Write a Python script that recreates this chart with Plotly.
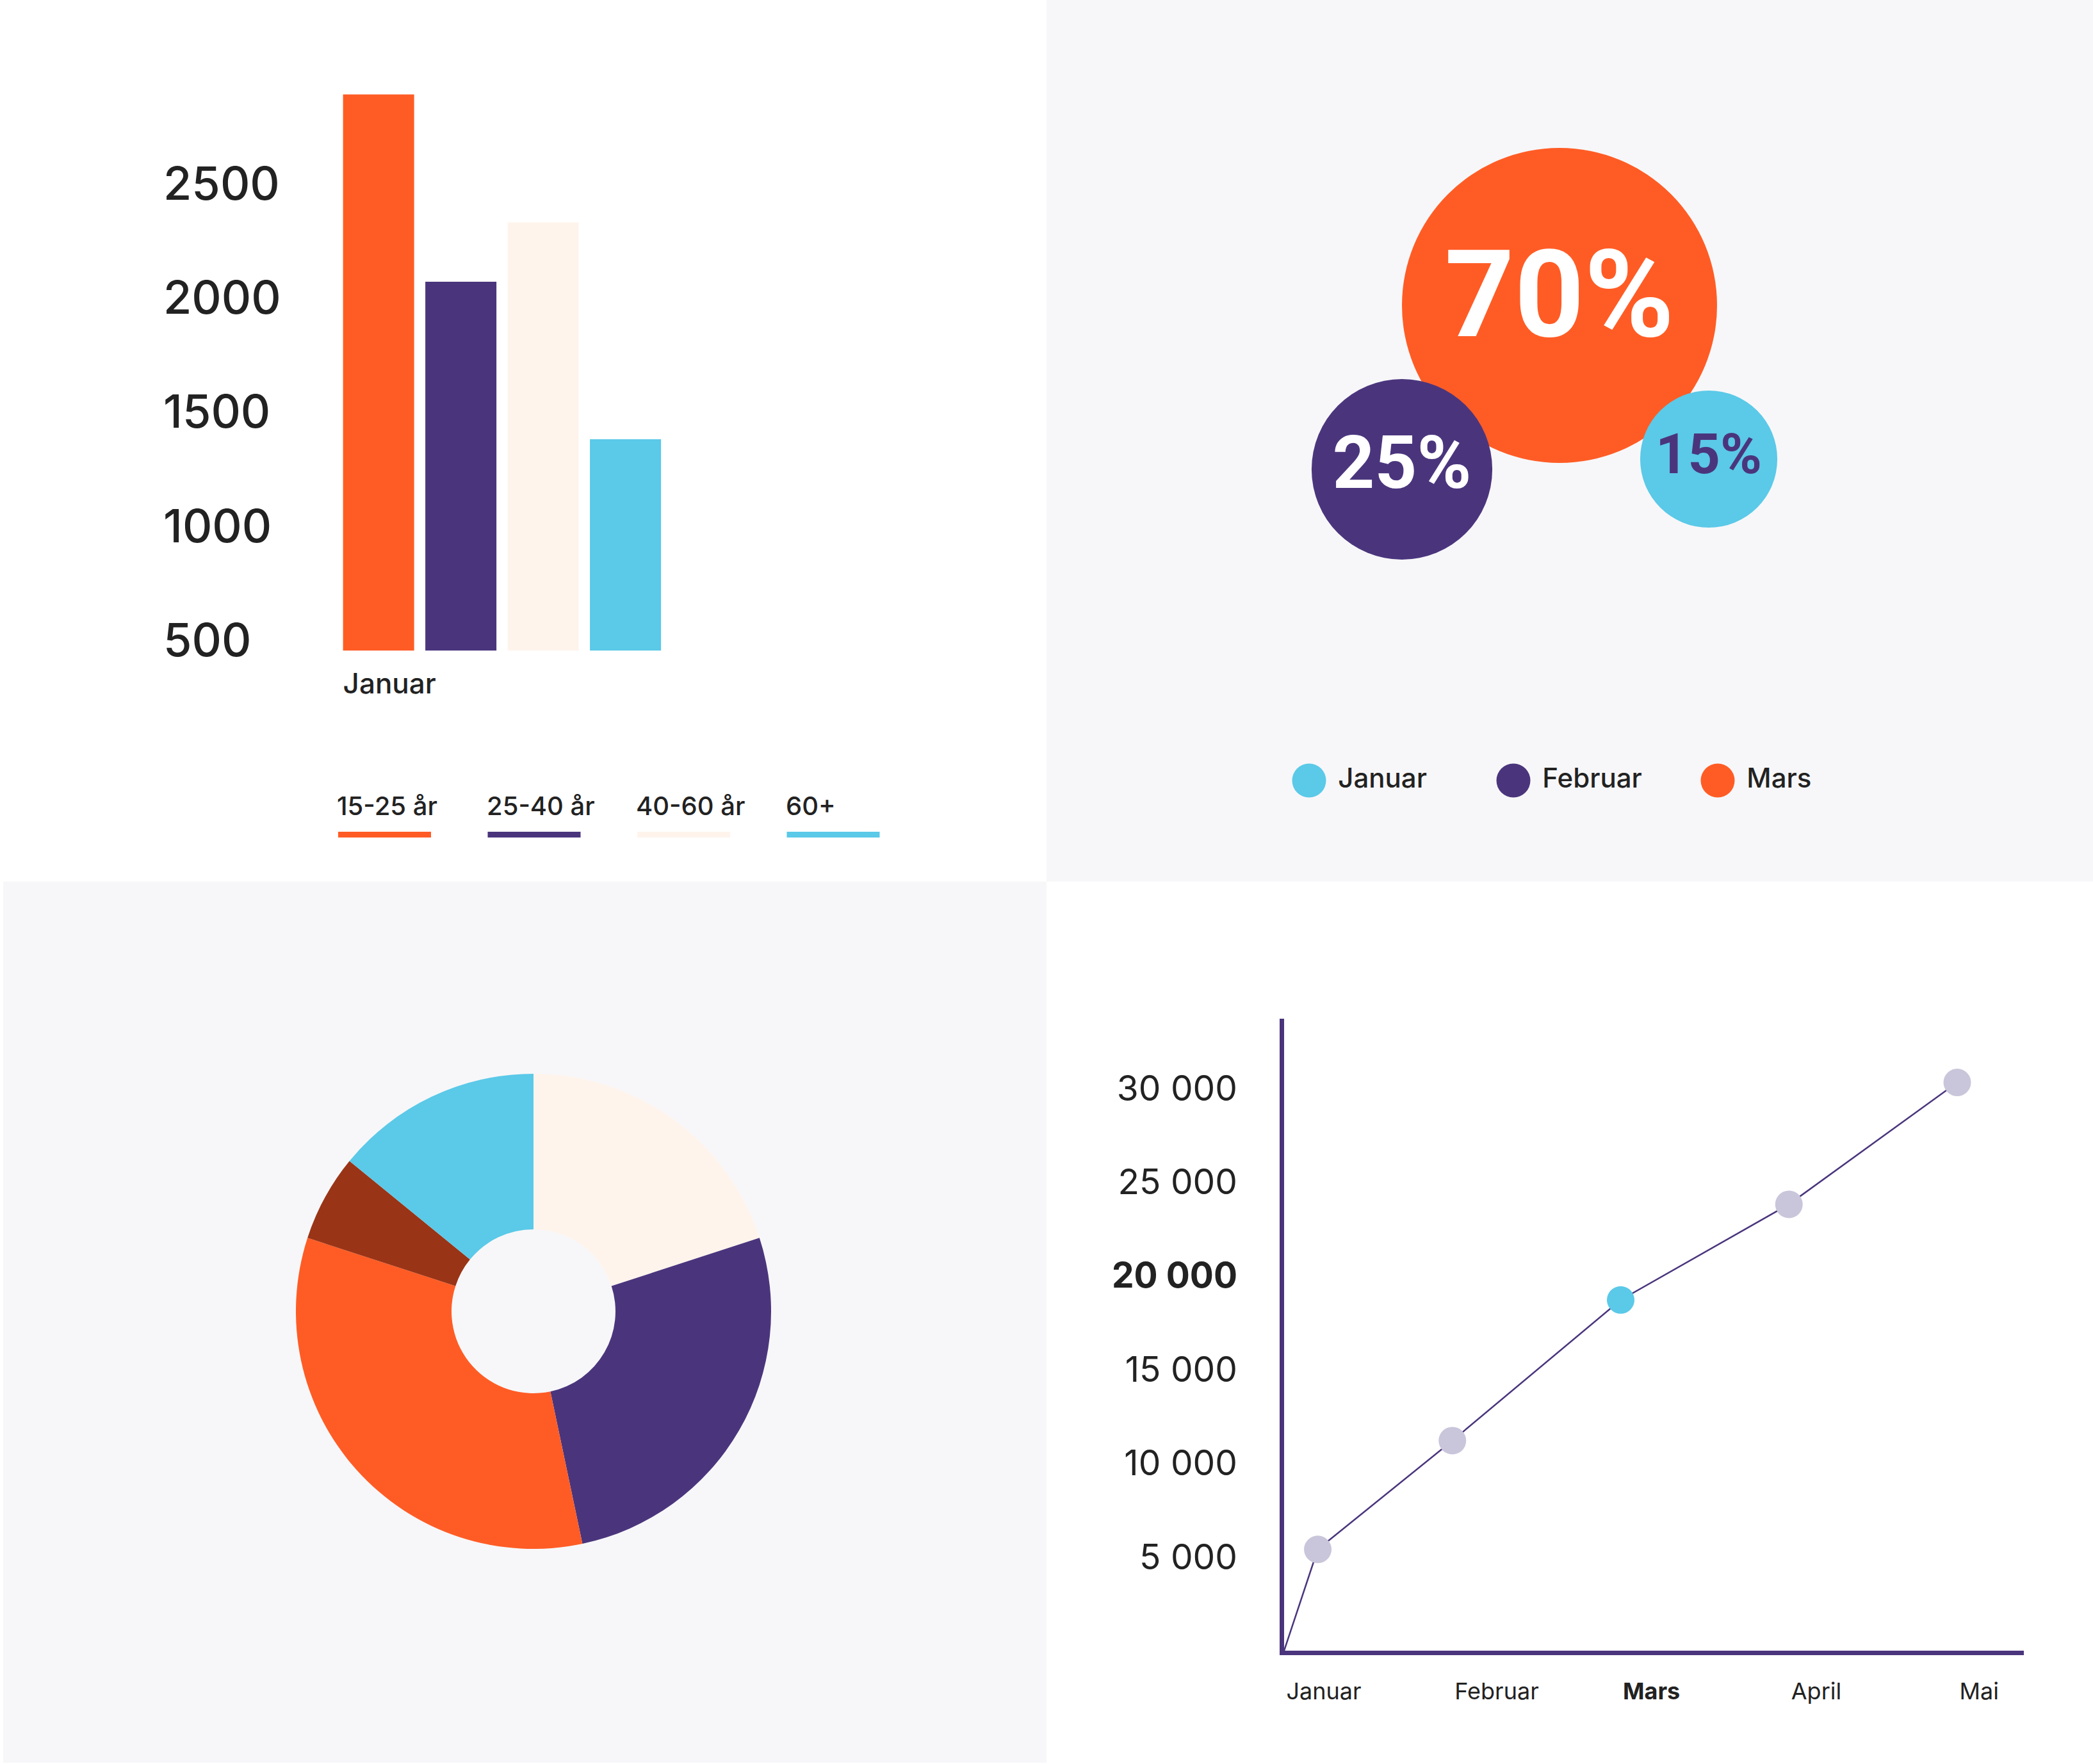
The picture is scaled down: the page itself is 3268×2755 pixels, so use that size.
import plotly.graph_objects as go

W, H = 3268, 2755
PAGE_OFFSET = 0  # body margin is removed by the post script below

# ---------------- data ----------------
# bar chart (top left)
bar_month = ["Januar"]
age_groups = ["15-25 år", "25-40 år", "40-60 år", "60+"]
age_values = [2890, 2070, 2330, 1380]
bar_ticks = [500, 1000, 1500, 2000, 2500]

# bubble chart (top right)
bubble_months = ["Januar", "Februar", "Mars"]
bubble_shares = [15, 25, 70]

# donut (bottom left)
donut_labels = ["Del 1", "Del 2", "Del 3", "Del 4", "Del 5"]
donut_values = [20.0, 26.7, 33.3, 5.9, 14.1]

# line chart (bottom right)
line_months = ["Januar", "Februar", "Mars", "April", "Mai"]
line_values = [5400, 11200, 18700, 23800, 30300]
line_ticks = [5000, 10000, 15000, 20000, 25000, 30000]
line_tick_labels = ["5 000", "10 000", "15 000", "20 000", "25 000", "30 000"]
highlight_month = "Mars"
highlight_tick = 20000

# ---------------- styles ----------------
ORANGE = "#FF5C25"
PURPLE = "#4A357D"
CREAM = "#FFF4EC"
CYAN = "#5BC9E8"
RUST = "#9A3416"
GREY_DOT = "#C9C6DB"
PANEL = "#F7F7F9"
INK = "#222222"
FONT = "Inter"

age_colors = [ORANGE, PURPLE, CREAM, CYAN]
bubble_colors = [CYAN, PURPLE, ORANGE]
bubble_text_colors = [PURPLE, "white", "white"]
bubble_font_sizes = [88, 115, 190]
donut_colors = [CREAM, PURPLE, ORANGE, RUST, CYAN]

# bubble packing layout (screen pixels inside the top-right panel)
bubble_x = [1034, 555, 801]
bubble_y = [717, 733, 477]


def px_x(p):
    return (p - PAGE_OFFSET) / W


def px_y(p):
    return 1 - (p - PAGE_OFFSET) / H


fig = go.Figure()

# ---------- bar chart ----------
BAR_PITCH = 0.25
BAR_WIDTH = 0.216
for i, (g, v) in enumerate(zip(age_groups, age_values)):
    fig.add_trace(go.Bar(
        x=bar_month, y=[v], name=g, width=BAR_WIDTH, offset=i * BAR_PITCH,
        marker=dict(color=age_colors[i], line=dict(width=0)),
        xaxis="x", yaxis="y", showlegend=False,
    ))

# ---------- bubbles ----------
order = sorted(range(len(bubble_shares)), key=lambda k: -bubble_shares[k])
sizes = [492 * (s / max(bubble_shares)) ** 0.54 for s in bubble_shares]
fig.add_trace(go.Scatter(
    x=[bubble_x[k] for k in order], y=[bubble_y[k] for k in order],
    mode="markers+text",
    text=[f"{bubble_shares[k]}%" for k in order],
    textposition="middle center",
    textfont=dict(family="Roboto", weight=700,
                  size=[bubble_font_sizes[k] for k in order],
                  color=[bubble_text_colors[k] for k in order]),
    marker=dict(size=[sizes[k] for k in order],
                color=[bubble_colors[k] for k in order], line=dict(width=0), opacity=1),
    xaxis="x2", yaxis="y2", showlegend=False, hoverinfo="skip",
))
# bubble legend
LEG_X0, LEG_PITCH, LEG_Y = 410, 319, 1219
fig.add_trace(go.Scatter(
    x=[LEG_X0 + i * LEG_PITCH for i in range(len(bubble_months))],
    y=[LEG_Y] * len(bubble_months),
    mode="markers+text", text=[" " + m for m in bubble_months],
    textposition="middle right",
    textfont=dict(family=FONT, size=42, color=INK, weight=500),
    marker=dict(size=53, color=bubble_colors, line=dict(width=0)),
    xaxis="x2", yaxis="y2", showlegend=False, hoverinfo="skip",
))

# ---------- donut ----------
cx, cy, r = 833, 2048, 371
fig.add_trace(go.Pie(
    labels=donut_labels, values=donut_values, hole=0.345, sort=False,
    direction="clockwise", rotation=0,
    marker=dict(colors=donut_colors, line=dict(width=0)),
    textinfo="none", showlegend=False,
    domain=dict(x=[px_x(cx - r), px_x(cx + r)], y=[px_y(cy + r), px_y(cy - r)]),
))

# ---------- line chart ----------
month_pos = [0.2, 1, 2, 3, 4]
fig.add_trace(go.Scatter(
    x=[0] + month_pos, y=[0] + line_values, mode="lines",
    line=dict(color=PURPLE, width=2.5), xaxis="x3", yaxis="y3",
    showlegend=False, hoverinfo="skip",
))
fig.add_trace(go.Scatter(
    x=month_pos, y=line_values, mode="markers",
    marker=dict(size=43, color=[CYAN if m == highlight_month else GREY_DOT for m in line_months],
                line=dict(width=0)),
    xaxis="x3", yaxis="y3", showlegend=False, text=line_months,
))

# ---------- panels ----------
shapes = [
    dict(type="rect", xref="paper", yref="paper", x0=px_x(1634), x1=1, y0=px_y(1377), y1=1,
         fillcolor=PANEL, line=dict(width=0), layer="below"),
    dict(type="rect", xref="paper", yref="paper", x0=px_x(5), x1=px_x(1634), y0=px_y(2753),
         y1=px_y(1377), fillcolor=PANEL, line=dict(width=0), layer="below"),
]
annotations = []
# bar legend: label + coloured underline
BL_X0, BL_PITCH, BL_W = 528, 233.5, 145
for i, g in enumerate(age_groups):
    x0 = BL_X0 + i * BL_PITCH
    annotations.append(dict(
        xref="paper", yref="paper", x=px_x(x0 - 4), y=px_y(1258), xanchor="left", yanchor="middle",
        text=g, showarrow=False, font=dict(family=FONT, size=40, color=INK, weight=500),
    ))
    shapes.append(dict(type="rect", xref="paper", yref="paper",
                       x0=px_x(x0), x1=px_x(x0 + BL_W), y0=px_y(1308), y1=px_y(1299),
                       fillcolor=age_colors[i], line=dict(width=0)))

BAR_UNIT_PX = 514
bar_left_px = 535.6
xd0, xd1 = 500, 1500

fig.update_layout(
    width=W, height=H, margin=dict(l=0, r=0, t=0, b=0, autoexpand=False),
    paper_bgcolor="white", plot_bgcolor="rgba(0,0,0,0)",
    barmode="overlay", font=dict(family=FONT, color=INK),
    shapes=shapes, annotations=annotations,
    xaxis=dict(domain=[px_x(xd0), px_x(xd1)], type="category",
               range=[(xd0 - bar_left_px) / BAR_UNIT_PX, (xd1 - bar_left_px) / BAR_UNIT_PX],
               showgrid=False, zeroline=False, showline=False, ticks="",
               ticklabelposition="outside right", ticklabelstandoff=22, automargin=False,
               tickfont=dict(family=FONT, size=44, color=INK, weight=500), anchor="y"),
    yaxis=dict(domain=[px_y(1016), px_y(126)], range=[455, 2950],
               tickvals=bar_ticks, side="right", anchor="free", position=px_x(254),
               ticks="", ticklabelstandoff=0, automargin=False,
               showgrid=False, zeroline=False, showline=False,
               tickfont=dict(family=FONT, size=72, color=INK, weight=500)),
    xaxis2=dict(domain=[px_x(1634), 1], range=[0, W + PAGE_OFFSET - 1634],
                visible=False, anchor="y2", automargin=False),
    yaxis2=dict(domain=[px_y(1377), 1], range=[1377, PAGE_OFFSET], visible=False,
                anchor="x2", automargin=False),
    xaxis3=dict(domain=[px_x(2005), px_x(3160)], range=[0, (3160 - 2005) / 262.75],
                tickvals=list(range(len(line_months))),
                ticktext=[f"<b>{m}</b>" if m == highlight_month else m for m in line_months],
                ticklabelposition="outside right", ticks="", ticklabelstandoff=26,
                showline=True, linecolor=PURPLE, linewidth=7, automargin=False,
                showgrid=False, zeroline=False,
                tickfont=dict(family=FONT, size=36, color=INK), anchor="y3"),
    yaxis3=dict(domain=[px_y(2578), px_y(1591)], range=[0, 33700],
                tickvals=line_ticks,
                ticktext=[f"<b>{t}</b>" if v == highlight_tick else t
                          for v, t in zip(line_ticks, line_tick_labels)],
                ticks="", ticklabelstandoff=55, automargin=False,
                showline=True, linecolor=PURPLE, linewidth=7,
                showgrid=False, zeroline=False,
                tickfont=dict(family=FONT, size=55, color=INK), anchor="x3"),
)

fig.write_html(
    "out.html",
    config={"displayModeBar": False},
    post_script="document.body.style.margin='0px';",
)
